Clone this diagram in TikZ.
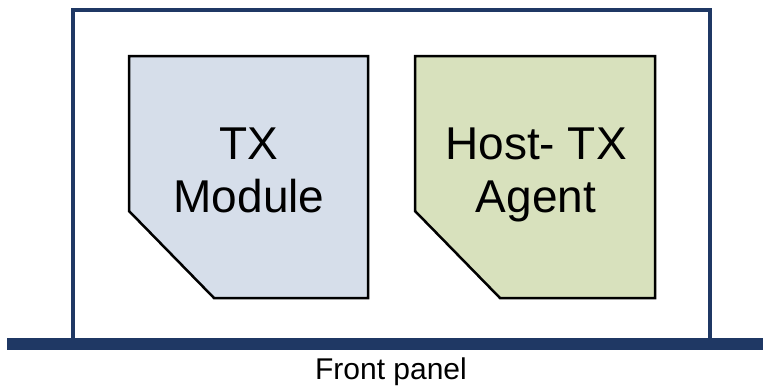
\documentclass[tikz,border=0pt]{standalone}
\usepackage{fontspec}
\setmainfont{Liberation Sans}
\definecolor{framenavy}{HTML}{1F3864}
\definecolor{modblue}{HTML}{D6DEEA}
\definecolor{agentgreen}{HTML}{D8E1BD}

\begin{document}
\begin{tikzpicture}[x=1pt, y=-1pt,
    card/.style={draw=black, line width=2.5pt, line join=miter},
    cardtext/.style={anchor=north, align=center, inner sep=0pt, font=\fontsize{46}{53}\selectfont}]
    \useasboundingbox (0,0) rectangle (763,388);

    % Chassis and panel
    \draw[framenavy, line width=4pt] (73,344) -- (73,10) -- (710,10) -- (710,344);
    \draw[framenavy, line width=12pt] (7,344) -- (763,344);
    \node (panel) [anchor=base, font=\fontsize{30}{36}\selectfont] at (391,379) {Front panel};

    % Cards
    \draw[card, fill=modblue] (129,56) -- (368,56) -- (368,298) -- (214,298) -- (129,211) -- cycle;
    \draw[card, fill=agentgreen] (415,56) -- (655,56) -- (655,298) -- (500,298) -- (415,211) -- cycle;
    \node (txmodule) [cardtext] at (249,128) {TX\\Module};
    \node (hostagent) [cardtext] at (536,128) {Host- TX\\Agent};
\end{tikzpicture}
\end{document}
